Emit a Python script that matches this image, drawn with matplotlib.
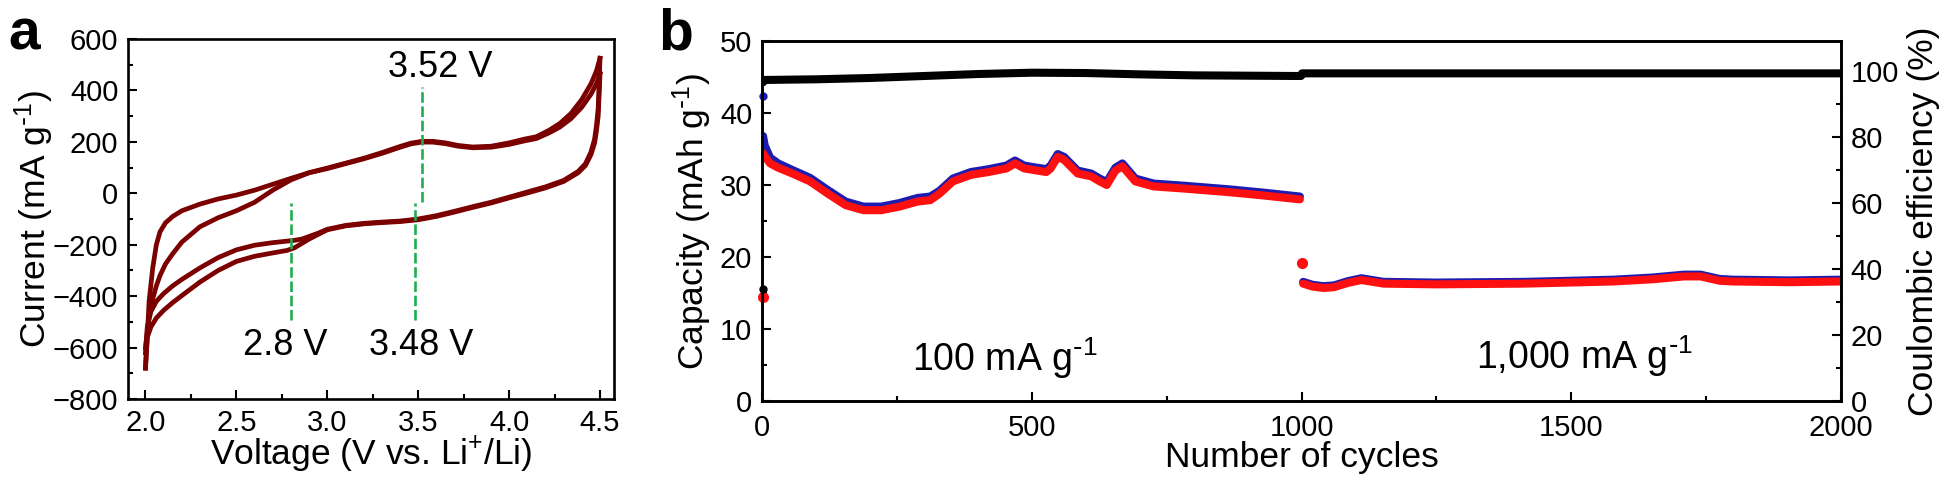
import matplotlib
matplotlib.use("Agg")
import matplotlib.pyplot as plt
from matplotlib.ticker import MultipleLocator

plt.rcParams["font.family"] = ["Liberation Sans", "DejaVu Sans"]
plt.rcParams["mathtext.default"] = "regular"

# ---------------- panel a: cyclic voltammetry (V, mA g-1) ----------------
v_anodic = [2.00, 2.01, 2.02, 2.04, 2.06, 2.08, 2.11, 2.15, 2.20, 2.30, 2.40, 2.50,
            2.60, 2.70, 2.80, 2.90, 3.00, 3.10, 3.20, 3.30, 3.40, 3.46, 3.52, 3.58,
            3.65, 3.72, 3.80, 3.90, 4.00, 4.08, 4.15, 4.22, 4.28, 4.34, 4.40, 4.45,
            4.48, 4.50]
i_anodic_1 = [-680, -560, -420, -290, -200, -150, -115, -90, -68, -42, -22, -7,
              12, 35, 58, 80, 98, 117, 136, 158, 182, 195, 202, 202,
              196, 186, 180, 183, 196, 210, 220, 245, 272, 310, 365, 425,
              475, 525]
i_anodic_2 = [-600, -540, -480, -410, -360, -320, -275, -235, -190, -130, -95, -68,
              -35, 12, 52, 80, 96, 115, 134, 155, 179, 192, 199, 199,
              193, 183, 177, 179, 190, 203, 213, 235, 258, 290, 335, 385,
              425, 465]

v_cathodic = [4.50, 4.495, 4.49, 4.48, 4.47, 4.45, 4.42, 4.38, 4.30, 4.20, 4.10, 4.00,
              3.90, 3.80, 3.70, 3.60, 3.50, 3.40, 3.30, 3.20, 3.10, 3.00, 2.95, 2.90,
              2.86, 2.82, 2.78, 2.70, 2.60, 2.50, 2.40, 2.30, 2.20, 2.15, 2.10, 2.06,
              2.03, 2.01, 2.00]
i_cathodic_1 = [525, 420, 330, 260, 210, 160, 115, 85, 50, 25, 5, -15,
                -35, -52, -70, -87, -100, -108, -112, -117, -125, -140, -155, -168,
                -178, -183, -186, -192, -202, -220, -250, -290, -335, -360, -390, -420,
                -460, -520, -620]
i_cathodic_2 = [465, 380, 300, 240, 195, 150, 108, 80, 46, 21, 1, -18,
                -38, -55, -73, -90, -103, -110, -114, -119, -127, -142, -160, -178,
                -195, -212, -222, -232, -245, -265, -300, -345, -398, -425, -455, -485,
                -520, -560, -680]

peak_v = [2.8, 3.48, 3.52]
peak_lo = [-493, -493, -33]
peak_hi = [-39, -39, 415]
peak_labels = ["2.8 V", "3.48 V", "3.52 V"]

# ---------------- panel b: cycling (capacity mAh g-1, CE %) ----------------
first_cycle = 1
first_discharge = 14.5
first_charge = 42.4
first_ce = 34.0

cyc_100 = [2, 5, 15, 30, 56, 89, 122, 155, 188, 221, 255, 288, 312, 329, 354, 387,
           420, 453, 469, 486, 502, 527, 535, 548, 560, 585, 610, 626, 639, 655, 668,
           692, 726, 783, 866, 922, 960, 997]
dis_100 = [34.4, 34.0, 33.0, 32.4, 31.6, 30.5, 28.8, 27.2, 26.5, 26.5, 27.0, 27.7,
           27.9, 28.8, 30.5, 31.4, 31.8, 32.3, 33.0, 32.3, 32.1, 31.8, 32.3, 33.9,
           33.5, 31.6, 31.2, 30.5, 30.0, 32.0, 32.6, 30.5, 29.8, 29.5, 29.0, 28.6,
           28.3, 28.0]
chg_100 = [36.8, 35.5, 33.8, 33.0, 32.1, 31.0, 29.3, 27.7, 27.0, 27.0, 27.5, 28.2,
           28.4, 29.2, 30.9, 31.8, 32.2, 32.7, 33.4, 32.7, 32.5, 32.2, 32.7, 34.3,
           33.9, 32.0, 31.6, 30.9, 30.4, 32.4, 33.0, 30.9, 30.2, 29.9, 29.4, 29.0,
           28.7, 28.4]

jump_cycle = 1001
jump_discharge = 19.2

cyc_1000 = [1003, 1020, 1040, 1060, 1086, 1111, 1152, 1250, 1414, 1578, 1650, 1709,
            1740, 1775, 1800, 1906, 1998]
dis_1000 = [16.3, 15.9, 15.7, 15.8, 16.4, 16.8, 16.3, 16.2, 16.3, 16.6, 16.9, 17.3,
            17.3, 16.7, 16.6, 16.5, 16.6]
chg_1000 = [16.55, 16.15, 15.95, 16.05, 16.65, 17.05, 16.55, 16.45, 16.55, 16.85,
            17.15, 17.55, 17.55, 16.95, 16.85, 16.75, 16.85]

ce_cyc = [2, 5, 50, 100, 200, 300, 400, 500, 600, 700, 800, 900, 999, 1001, 1200,
          1400, 1600, 1800, 2000]
ce_val = [96.5, 97.2, 97.3, 97.4, 97.8, 98.4, 99.0, 99.4, 99.3, 98.9, 98.6, 98.5,
          98.4, 99.2, 99.2, 99.2, 99.2, 99.2, 99.2]

CV_RED = "#7b0000"
GREEN = "#1fae4f"
BLUE = "#1c1cb0"
RED = "#ff1010"
TICK_FS = 21
LABEL_FS = 25.5
INV = r"$^{\text{-}1}$"


def style_axis(ax):
    for s in ax.spines.values():
        s.set_linewidth(1.9)
    ax.tick_params(which="both", direction="in", width=1.5, labelsize=TICK_FS,
                   pad=7, top=False, right=False)
    ax.tick_params(which="major", length=6.5)
    ax.tick_params(which="minor", length=3.5)


fig = plt.figure(figsize=(19.55, 4.8), dpi=100)

# ---- panel a ----
ax_a = fig.add_axes([128 / 1955, 81 / 480, 486 / 1955, 360 / 480])
for v, i in ((v_anodic, i_anodic_1), (v_anodic, i_anodic_2),
             (v_cathodic, i_cathodic_1), (v_cathodic, i_cathodic_2)):
    ax_a.plot(v, i, color=CV_RED, lw=3.4, solid_joinstyle="round")
for k, v in enumerate(peak_v):
    ax_a.plot([v, v], [peak_lo[k], peak_hi[k]], color=GREEN, lw=1.9,
              ls=(0, (4, 1.4)), zorder=3)
ax_a.text(2.771, -593, peak_labels[0], fontsize=26, ha="center", va="center")
ax_a.text(3.514, -593, peak_labels[1], fontsize=26, ha="center", va="center")
ax_a.text(3.62, 489, peak_labels[2], fontsize=26, ha="center", va="center")

ax_a.set_xlim(1.904, 4.577)
ax_a.set_ylim(-800, 600)
ax_a.xaxis.set_major_locator(MultipleLocator(0.5))
ax_a.xaxis.set_minor_locator(MultipleLocator(0.25))
ax_a.yaxis.set_major_locator(MultipleLocator(200))
ax_a.yaxis.set_minor_locator(MultipleLocator(100))
ax_a.xaxis.set_major_formatter(lambda x, p: f"{x:.1f}")
style_axis(ax_a)
ax_a.set_xlabel("Voltage (V vs. Li$^{+}$/Li)", fontsize=LABEL_FS, va="baseline")
ax_a.xaxis.set_label_coords(0.5, -0.183)
ax_a.set_ylabel("Current (mA g" + INV + ")", fontsize=LABEL_FS, va="center")
ax_a.yaxis.set_label_coords(-0.193, 0.5)

# ---- panel b ----
ax_b = fig.add_axes([762 / 1955, 79 / 480, 1079 / 1955, 360 / 480])
ax_b.plot(cyc_100, chg_100, color=BLUE, lw=5.8, solid_capstyle="round")
ax_b.plot(cyc_1000, chg_1000, color=BLUE, lw=5.8, solid_capstyle="round")
ax_b.plot(cyc_100, dis_100, color=RED, lw=5.8, solid_capstyle="round")
ax_b.plot(cyc_1000, dis_1000, color=RED, lw=5.8, solid_capstyle="round")
ax_b.plot([first_cycle], [first_charge], "o", color=BLUE, ms=5, clip_on=False)
ax_b.plot([first_cycle], [first_discharge], "o", color=RED, ms=7, clip_on=False)
ax_b.plot([jump_cycle], [jump_discharge], "o", color=RED, ms=7)
ax_b.text(450, 6.0, "100 mA g" + INV, fontsize=27, ha="center", va="center")
ax_b.text(1525, 6.2, "1,000 mA g" + INV, fontsize=27, ha="center", va="center")

ax_b.set_xlim(0, 2000)
ax_b.set_ylim(0, 50)
ax_b.xaxis.set_major_locator(MultipleLocator(500))
ax_b.xaxis.set_minor_locator(MultipleLocator(250))
ax_b.yaxis.set_major_locator(MultipleLocator(10))
ax_b.yaxis.set_minor_locator(MultipleLocator(5))
style_axis(ax_b)
ax_b.tick_params(axis="x", pad=9.5)
ax_b.set_xlabel("Number of cycles", fontsize=LABEL_FS, va="baseline")
ax_b.xaxis.set_label_coords(0.5, -0.183)
ax_b.set_ylabel("Capacity (mAh g" + INV + ")", fontsize=LABEL_FS, va="center")
ax_b.yaxis.set_label_coords(-0.0649, 0.5)

ax_ce = ax_b.twinx()
ax_ce.plot(ce_cyc, ce_val, color="black", lw=5.8, solid_capstyle="round")
ax_ce.plot([first_cycle], [first_ce], "o", color="black", ms=5, clip_on=False)
ax_ce.set_ylim(0, 109)
ax_ce.yaxis.set_major_locator(MultipleLocator(20))
ax_ce.yaxis.set_minor_locator(MultipleLocator(10))
for s in ax_ce.spines.values():
    s.set_linewidth(1.9)
ax_ce.tick_params(which="both", direction="in", width=1.5, labelsize=TICK_FS,
                  pad=7, left=False, right=True)
ax_ce.tick_params(which="major", length=6.5)
ax_ce.tick_params(which="minor", length=3.5)
ax_ce.set_ylabel("Coulombic efficiency (%)", fontsize=LABEL_FS, va="center",
                 rotation=90)
ax_ce.yaxis.set_label_coords(1.076, 0.5)

fig.text(8 / 1955, 1 - 50 / 480, "a", fontsize=41, fontweight="bold", va="baseline")
fig.text(658 / 1955, 1 - 50 / 480, "b", fontsize=41, fontweight="bold", va="baseline")

fig.savefig("out.png", dpi=100)
